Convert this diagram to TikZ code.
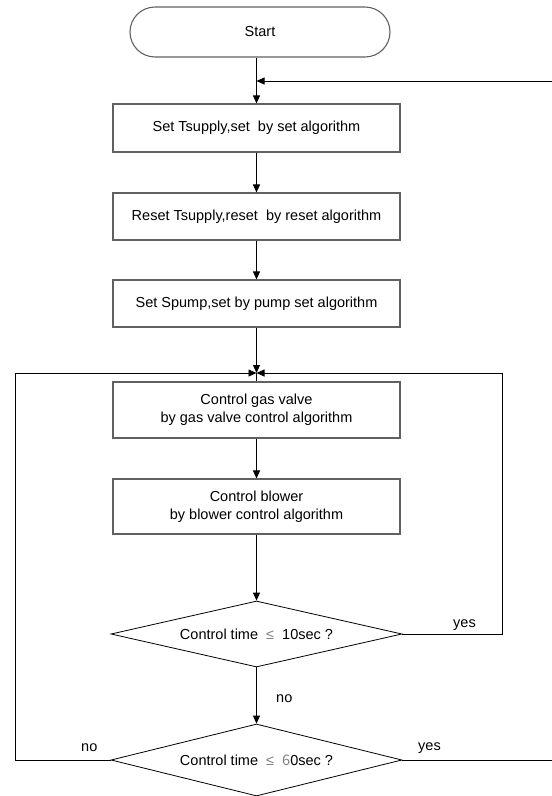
\documentclass[tikz,border=0pt]{standalone}
\usepackage{fontspec}
\setmainfont{Liberation Sans}
\newfontfamily\cjk{Noto Sans CJK SC}
\usetikzlibrary{arrows.meta,shapes.geometric}
\definecolor{boxgray}{gray}{0.38}
\definecolor{symgray}{gray}{0.5}
\begin{document}
\begin{tikzpicture}[x=1pt,y=-1pt,
  font=\fontsize{14.5}{18}\selectfont,
  terminator/.style={draw=boxgray,line width=1.1pt,rounded corners=25pt,
    minimum width=260pt,minimum height=50pt,inner sep=0pt},
  procbox/.style={draw=boxgray,line width=1.1pt,minimum width=287pt,
    minimum height=47pt,inner sep=0pt,align=center},
  decision/.style={diamond,draw,line width=0.8pt,aspect=3.93,
    minimum width=291pt,inner sep=0pt},
  flow/.style={-{Triangle[length=8pt,width=7pt]},line width=0.8pt},
  link/.style={line width=0.8pt},
  lbl/.style={inner sep=0pt}
]
\useasboundingbox (0,0) rectangle (552,796);

% process chain
\node[terminator] (start) at (260,32) {Start};
\node[procbox,minimum height=48pt] (set1) at (256.5,128) {Set Tsupply,set\ \ by set algorithm};
\node[procbox] (reset) at (256.5,216.5) {Reset Tsupply,reset\ \ by reset algorithm};
\node[procbox] (pump) at (256.5,303.5) {Set Spump,set by pump set algorithm};
\coordinate (join) at (256.5,373);
\node[procbox,minimum height=56pt] (gas) at (256.5,410) {Control gas valve\\by gas valve control algorithm};
\node[procbox,minimum height=55pt] (blower) at (256.5,506.5) {Control blower\\by blower control algorithm};
\node[decision,minimum height=66pt] (d10) at (256.5,634)
  {Control time\ \ {\color{symgray}≤}\ \ 10sec ?};
\node[decision,minimum height=72pt] (d60) at (256.5,760)
  {Control time\ \ {\color{symgray}≤}\ \ {\cjk\color{symgray}6}0sec ?};

% loop corners
\coordinate (rin) at (552,81);
\coordinate (r10) at (502,634);
\coordinate (l60) at (15,760);
\coordinate (rout) at (552,760);

% straight flow
\draw[flow] (start.south -| set1.north) -- (set1);
\draw[flow] (rin) -- (rin -| set1.north);
\draw[flow] (set1) -- (reset);
\draw[flow] (reset) -- (pump);
\draw[flow] (pump) -- (join);
\draw[link] (join) -- (gas);
\draw[flow] (gas) -- (blower);
\draw[flow] (blower) -- (d10);
\draw[flow] (d10) -- (d60);

% feedback branches
\draw[flow] (d10.east) -- (r10) -- (r10 |- join) -- (join);
\draw[flow] (d60.west) -- (l60) -- (l60 |- join) -- (join);
\draw[link] (d60.east) -- (rout);

% branch labels
\node[lbl,anchor=west] (yes10) at (453,625) {yes};
\node[lbl,anchor=west] (no10) at (276,699) {no};
\node[lbl,anchor=west] (no60) at (81,748) {no};
\node[lbl,anchor=west] (yes60) at (418,748) {yes};
\end{tikzpicture}
\end{document}
